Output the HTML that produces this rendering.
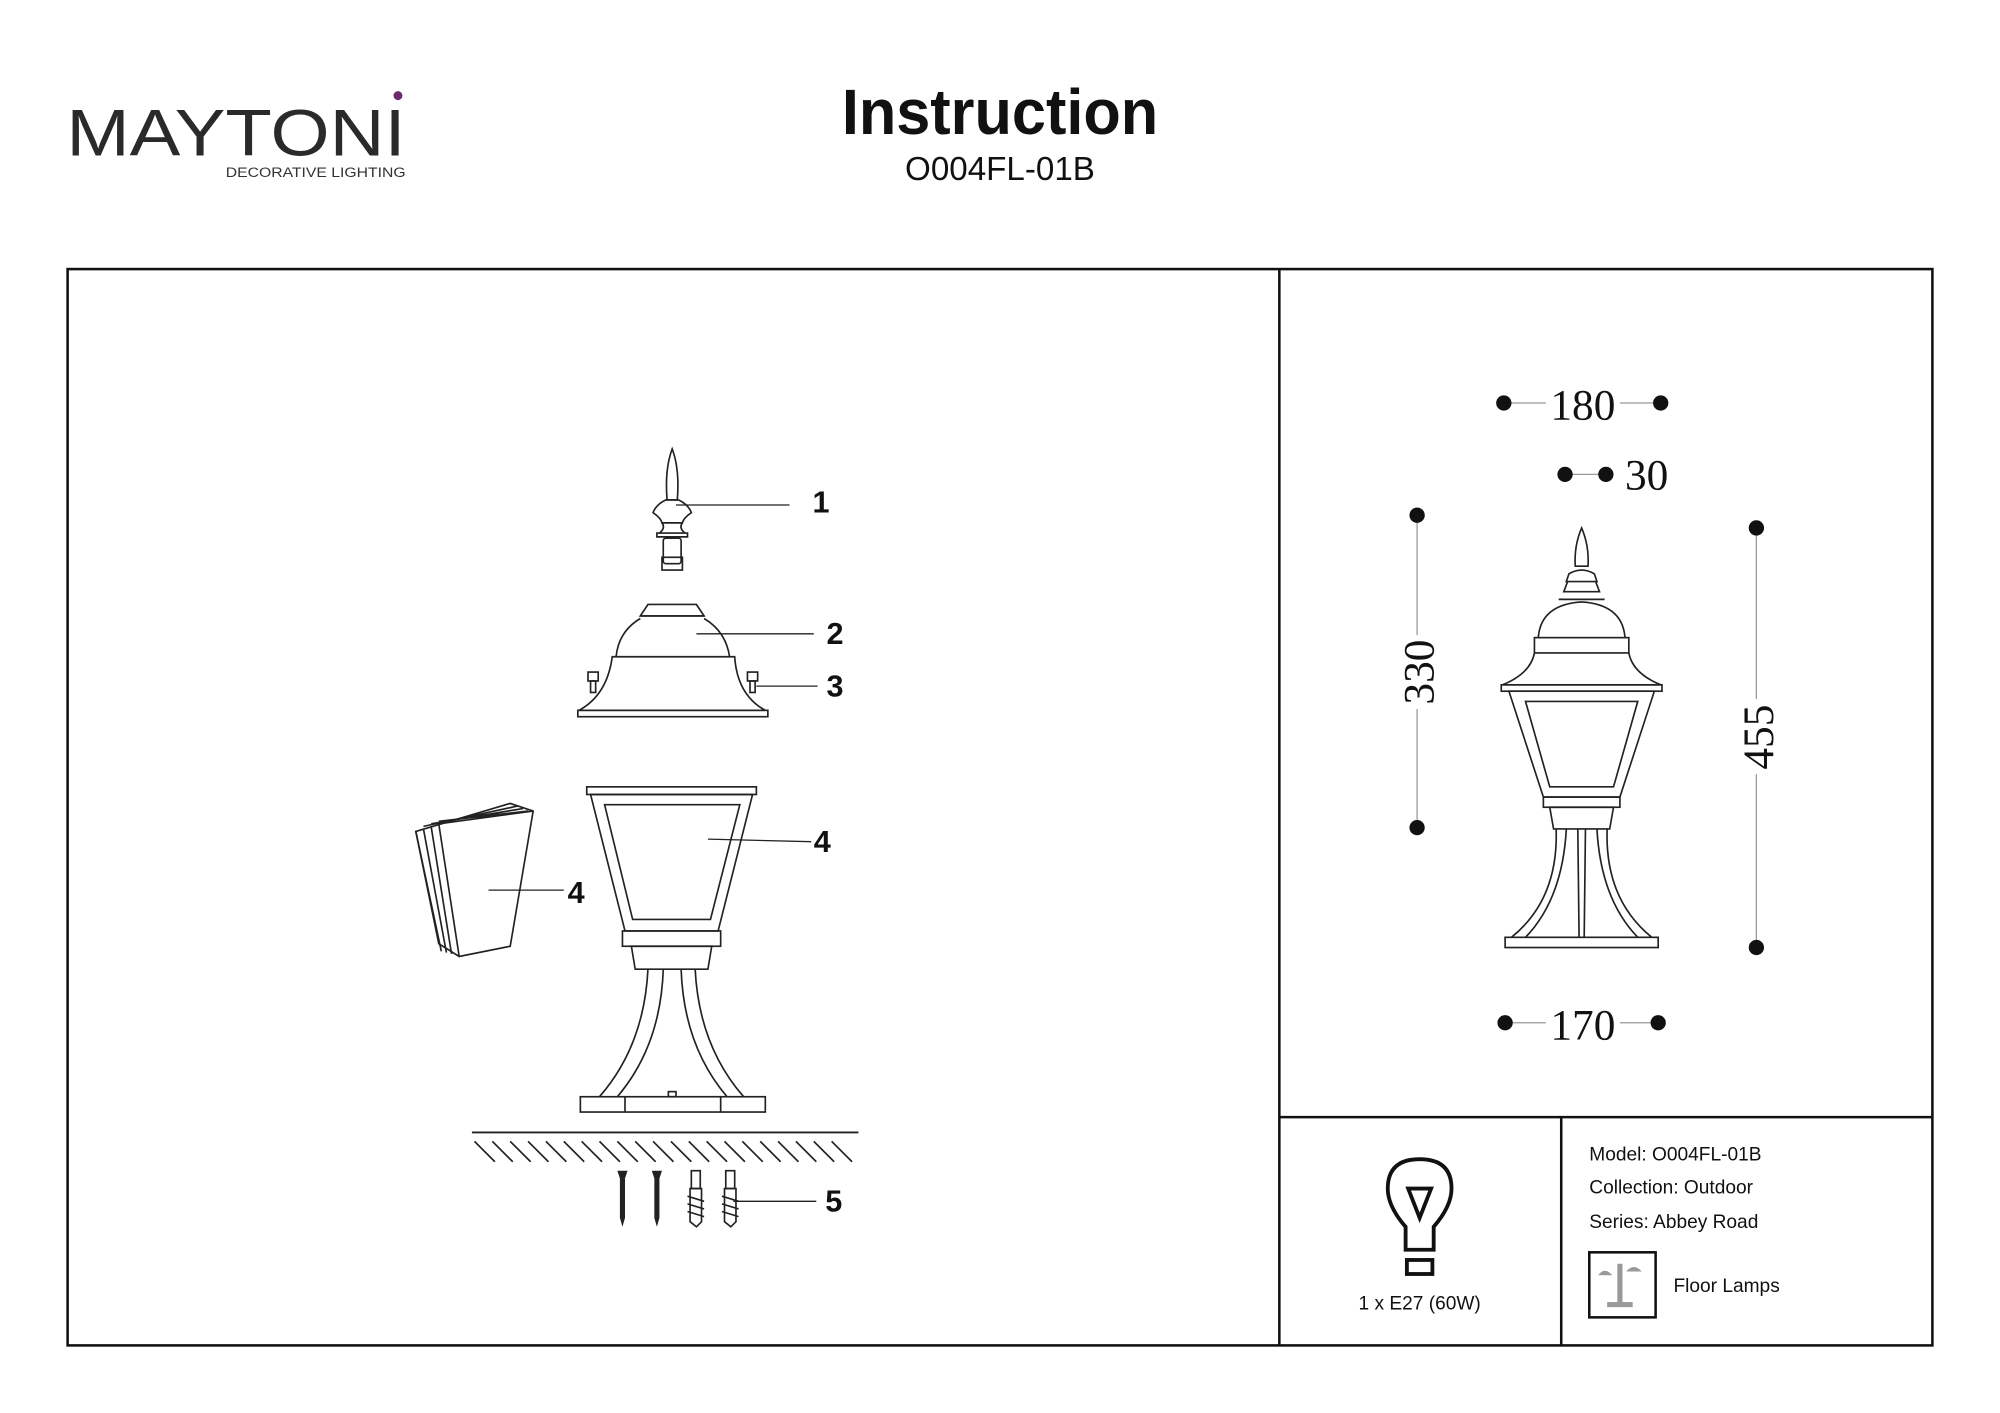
<!DOCTYPE html>
<html><head><meta charset="utf-8"><style>
html,body{margin:0;padding:0;background:#fff;}
svg{display:block;}
text{font-family:"Liberation Sans",sans-serif;}
.s{font-family:"Liberation Serif",serif;}
</style></head><body>
<svg width="2000" height="1413" viewBox="0 0 1568 1108" preserveAspectRatio="none" xmlns="http://www.w3.org/2000/svg">
<rect width="1568" height="1108" fill="#fff"/>
<!-- logo -->
<text x="52" y="122" font-size="52" fill="#2a2a2a" textLength="266" lengthAdjust="spacingAndGlyphs">MAYTONI</text>
<circle cx="312" cy="75" r="3.5" fill="#6a2a6e"/>
<text x="177" y="139" font-size="10.5" fill="#333" textLength="141" lengthAdjust="spacingAndGlyphs">DECORATIVE LIGHTING</text>
<!-- title -->
<text x="784" y="105" font-size="50" font-weight="bold" text-anchor="middle" fill="#111" textLength="248" lengthAdjust="spacingAndGlyphs">Instruction</text>
<text x="784" y="141" font-size="26" text-anchor="middle" fill="#111">O004FL-01B</text>
<!-- frame -->
<g stroke="#111" stroke-width="2" fill="none">
<rect x="53" y="211" width="1462" height="844"/>
<line x1="1003" y1="211" x2="1003" y2="1055"/>
<line x1="1003" y1="876" x2="1515" y2="876"/>
<line x1="1224" y1="876" x2="1224" y2="1055"/>
</g>
<!-- dimensions -->
<g stroke="#999" stroke-width="1">
<line x1="1179" y1="316" x2="1212" y2="316"/><line x1="1270" y1="316" x2="1302" y2="316"/>
<line x1="1227" y1="372" x2="1259" y2="372"/>
<line x1="1111" y1="404" x2="1111" y2="498"/><line x1="1111" y1="556" x2="1111" y2="649"/>
<line x1="1377" y1="414" x2="1377" y2="548"/><line x1="1377" y1="607" x2="1377" y2="743"/>
<line x1="1180" y1="802" x2="1212" y2="802"/><line x1="1270" y1="802" x2="1300" y2="802"/>
</g>
<g fill="#111">
<circle cx="1179" cy="316" r="6"/><circle cx="1302" cy="316" r="6"/>
<circle cx="1227" cy="372" r="6"/><circle cx="1259" cy="372" r="6"/>
<circle cx="1111" cy="404" r="6"/><circle cx="1111" cy="649" r="6"/>
<circle cx="1377" cy="414" r="6"/><circle cx="1377" cy="743" r="6"/>
<circle cx="1180" cy="802" r="6"/><circle cx="1300" cy="802" r="6"/>
</g>
<g class="s" font-size="34" fill="#111">
<text class="s" x="1241" y="329" text-anchor="middle">180</text>
<text class="s" x="1291" y="384" text-anchor="middle">30</text>
<text class="s" x="1241" y="815" text-anchor="middle">170</text>
<text class="s" transform="translate(1124,527) rotate(-90)" text-anchor="middle">330</text>
<text class="s" transform="translate(1390,578) rotate(-90)" text-anchor="middle">455</text>
</g>
<!-- right lamp -->
<g stroke="#222" stroke-width="1.3" fill="none">
<path d="M1240 414 Q1246 428 1245 444 L1235 444 Q1234 428 1240 414Z"/>
<path d="M1230 450 Q1240 444 1250 450 L1252 456 L1228 456Z M1229 456 L1251 456 L1254 464 L1226 464Z"/>
<path d="M1222 470 L1258 470 M1206 500 Q1208 474 1240 472 Q1272 474 1274 500"/>
<rect x="1203" y="500" width="74" height="12"/>
<path d="M1203 512 Q1200 528 1178 537 L1302 537 Q1280 528 1277 512"/>
<rect x="1177" y="537" width="126" height="5"/>
<path d="M1183 542 L1297 542 L1270 625 L1210 625Z"/>
<path d="M1196 550 L1284 550 L1265 617 L1215 617Z"/>
<rect x="1210" y="625" width="60" height="8"/>
<path d="M1215 633 L1265 633 L1262 650 L1218 650Z"/>
<path d="M1220 650 Q1222 705 1185 735 M1228 650 Q1225 705 1196 735 M1260 650 Q1258 705 1295 735 M1252 650 Q1255 705 1284 735 M1237 650 L1238 735 M1243 650 L1242 735"/>
<rect x="1180" y="735" width="120" height="8"/>
</g>
<!-- left exploded lamp -->
<g stroke="#222" stroke-width="1.3" fill="none">
<path d="M527 352 Q533 368 531 392 L523 392 Q521 368 527 352Z"/>
<path d="M522 392 L532 392 Q540 396 542 402 Q536 406 535 410 L519 410 Q518 406 512 402 Q514 396 522 392Z"/>
<path d="M519 410 Q522 414 517 418 L537 418 Q532 414 535 410 M515 418 L539 418 L539 421 L515 421Z"/>
<rect x="520" y="422" width="14" height="20" rx="2"/><rect x="519" y="437" width="16" height="10"/>
<path d="M502 483 L508 474 L546 474 L552 483Z"/>
<path d="M502 483 L552 483 M502 485 Q485 495 483 515 M552 485 Q569 495 572 515"/>
<path d="M480 515 L576 515 Q578 545 600 557 L454 557 Q476 545 480 515Z"/>
<rect x="453" y="557" width="149" height="5"/>
<rect x="461" y="527" width="8" height="7"/><rect x="463" y="534" width="4" height="9"/>
<rect x="586" y="527" width="8" height="7"/><rect x="588" y="534" width="4" height="9"/>
<rect x="460" y="617" width="133" height="6"/>
<path d="M463 623 L590 623 L563 730 L490 730Z"/>
<path d="M474 631 L580 631 L557 721 L496 721Z"/>
<rect x="488" y="730" width="77" height="12"/>
<path d="M495 742 L558 742 L555 760 L498 760Z"/>
<path d="M508 760 Q505 820 470 860 M520 760 Q518 820 484 860 M545 760 Q548 820 583 860 M534 760 Q536 820 570 860"/>
<rect x="455" y="860" width="145" height="12"/>
<line x1="490" y1="860" x2="490" y2="872"/><line x1="565" y1="860" x2="565" y2="872"/>
<rect x="524" y="856" width="6" height="4"/>
<!-- glass panels -->
<path d="M326 652 L400 630 L418 636 L400 742 L360 750 L344 740Z" fill="#fff"/>
<path d="M332 648 L406 632 M338 646 L410 634 M344 644 L414 636 M326 652 L346 746 M332 650 L350 747 M338 648 L354 748 M344 646 L360 750 M344 646 L418 636"/>
<!-- ground -->
<line x1="370" y1="888" x2="673" y2="888" stroke-width="1.5"/>
<path d="M372 895 L388 911 M386 895 L402 911 M400 895 L416 911 M414 895 L430 911 M428 895 L444 911 M442 895 L458 911 M456 895 L472 911 M470 895 L486 911 M484 895 L500 911 M498 895 L514 911 M512 895 L528 911 M526 895 L542 911 M540 895 L556 911 M554 895 L570 911 M568 895 L584 911 M582 895 L598 911 M596 895 L612 911 M610 895 L626 911 M624 895 L640 911 M638 895 L654 911 M652 895 L668 911"/>
</g>
<!-- screws -->
<g fill="#222">
<path d="M484 918 L492 918 L490 924 L490 955 L488 962 L486 955 L486 924Z"/>
<path d="M511 918 L519 918 L517 924 L517 955 L515 962 L513 955 L513 924Z"/>
</g>
<g stroke="#222" stroke-width="1.3" fill="none">
<rect x="542" y="918" width="7" height="14"/>
<path d="M541 932 L550 932 L550 958 L546 962 L541 958Z M539 938 L552 942 M539 944 L552 948 M539 950 L552 954"/>
<rect x="569" y="918" width="7" height="14"/>
<path d="M568 932 L577 932 L577 958 L573 962 L568 958Z M566 938 L579 942 M566 944 L579 948 M566 950 L579 954"/>
</g>
<!-- leader lines and labels -->
<g stroke="#222" stroke-width="1">
<line x1="530" y1="396" x2="619" y2="396"/>
<line x1="546" y1="497" x2="638" y2="497"/>
<line x1="593" y1="538" x2="641" y2="538"/>
<line x1="555" y1="658" x2="636" y2="660"/>
<line x1="383" y1="698" x2="442" y2="698"/>
<line x1="575" y1="942" x2="640" y2="942"/>
</g>
<g font-size="24" font-weight="bold" fill="#111">
<text x="637" y="402">1</text>
<text x="648" y="505">2</text>
<text x="648" y="546">3</text>
<text x="638" y="668">4</text>
<text x="445" y="708">4</text>
<text x="647" y="950">5</text>
</g>
<!-- bulb icon -->
<g stroke="#111" stroke-width="3" fill="none">
<path d="M1102 980 L1102 962 Q1088 946 1088 932 Q1088 909 1113 909 Q1138 909 1138 932 Q1138 946 1124 962 L1124 980Z"/>
<path d="M1104 932 L1122 932 L1113 955Z"/>
<rect x="1103" y="988" width="20" height="11"/>
</g>
<text x="1113" y="1027" font-size="15" text-anchor="middle" fill="#111">1 x E27 (60W)</text>
<g font-size="15" fill="#111">
<text x="1246" y="910">Model: O004FL-01B</text>
<text x="1246" y="936">Collection: Outdoor</text>
<text x="1246" y="963">Series: Abbey Road</text>
<text x="1312" y="1013">Floor Lamps</text>
</g>
<rect x="1246" y="982" width="52" height="51" fill="none" stroke="#111" stroke-width="2"/>
<g fill="#999">
<rect x="1268" y="991" width="4" height="32"/><rect x="1260" y="1021" width="20" height="4"/>
<path d="M1253 1000 Q1258 993 1264 1000Z"/><path d="M1275 997 Q1281 990 1287 997Z"/>
</g>
</svg>
</body></html>
